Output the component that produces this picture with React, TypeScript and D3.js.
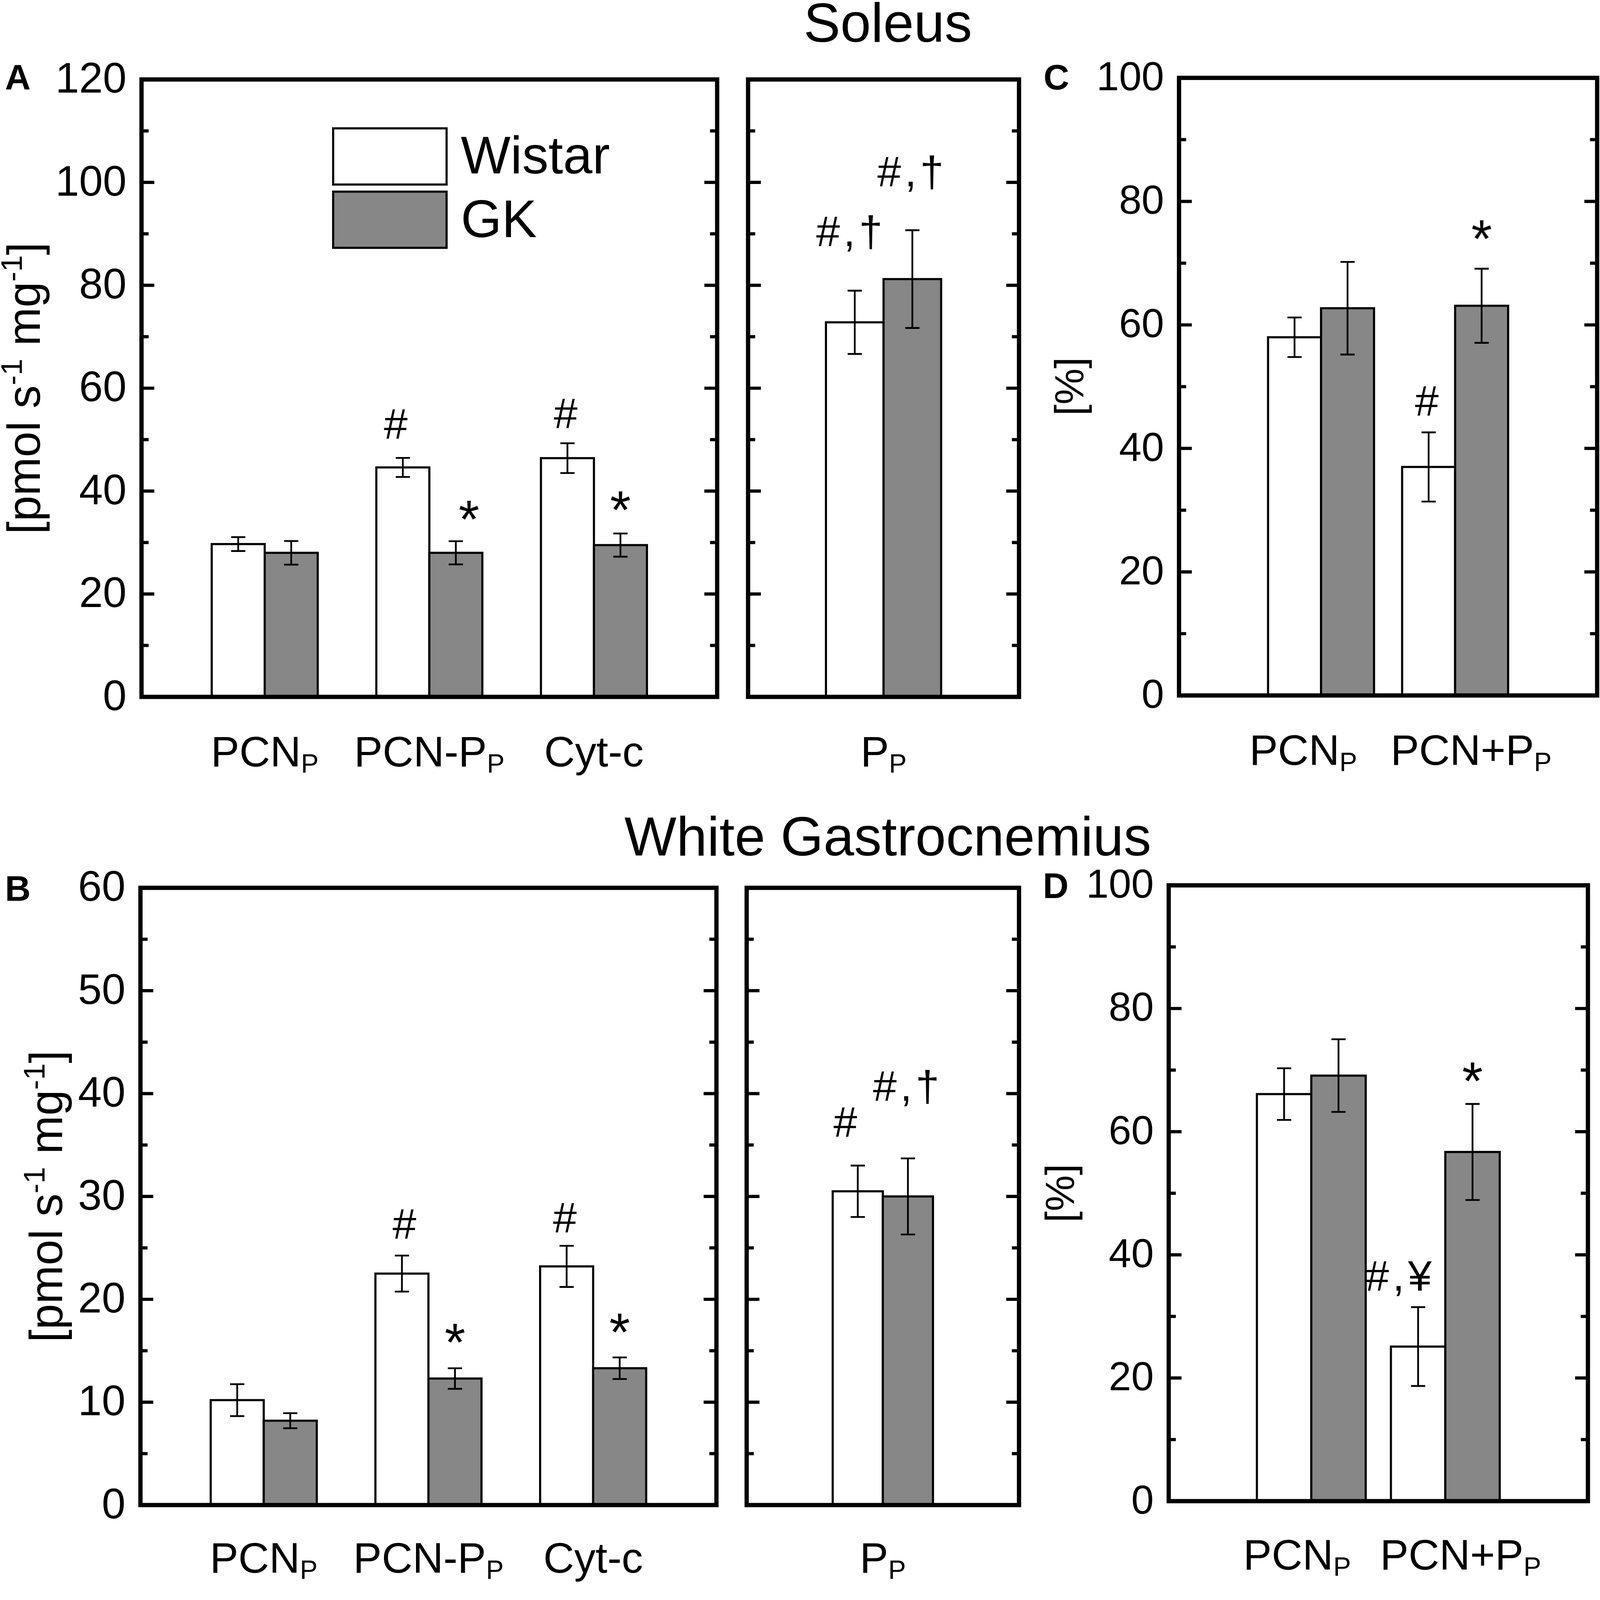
import * as d3 from "d3";

const WIDTH = 4500;
const HEIGHT = 4468;
const FONT = "'Liberation Sans', Arial, Helvetica, sans-serif";
const GK_FILL = "#878787";

// ---- data ----
const fluxCategories = ["PCN_P", "PCN-P_P", "Cyt-c"];
const ppCategories = ["P_P"];
const ratioCategories = ["PCN_P", "PCN+P_P"];

// Soleus, panel A
const soleusWistar = [29.7, 44.6, 46.4];
const soleusWistarSem = [1.35, 1.85, 2.9];
const soleusGK = [28.0, 28.0, 29.5];
const soleusGKSem = [2.3, 2.25, 2.25];
const soleusPpWistar = [72.8];
const soleusPpWistarSem = [6.15];
const soleusPpGK = [81.2];
const soleusPpGKSem = [9.5];
// Soleus, panel C
const soleusRatioWistar = [58.0, 37.0];
const soleusRatioWistarSem = [3.2, 5.6];
const soleusRatioGK = [62.7, 63.1];
const soleusRatioGKSem = [7.5, 6.0];

// White gastrocnemius, panel B
const gastrocWistar = [10.2, 22.5, 23.2];
const gastrocWistarSem = [1.55, 1.75, 2.0];
const gastrocGK = [8.2, 12.3, 13.3];
const gastrocGKSem = [0.73, 1.0, 1.05];
const gastrocPpWistar = [30.5];
const gastrocPpWistarSem = [2.5];
const gastrocPpGK = [30.0];
const gastrocPpGKSem = [3.7];
// White gastrocnemius, panel D
const gastrocRatioWistar = [66.1, 25.1];
const gastrocRatioWistarSem = [4.2, 6.4];
const gastrocRatioGK = [69.1, 56.7];
const gastrocRatioGKSem = [5.9, 7.8];

const soleusFluxTicks = [0, 20, 40, 60, 80, 100, 120];
const gastrocFluxTicks = [0, 10, 20, 30, 40, 50, 60];
const ratioTicks = [0, 20, 40, 60, 80, 100];

// significance marks: category, series, text, baseline level (axis units)
type Mark = { cat: string; series: string; text: string; at: number };
const soleusMarks: Mark[] = [
  { cat: "PCN-P_P", series: "Wistar", text: "#", at: 50.2 },
  { cat: "Cyt-c", series: "Wistar", text: "#", at: 52.2 },
  { cat: "PCN-P_P", series: "GK", text: "*", at: 30.9 },
  { cat: "Cyt-c", series: "GK", text: "*", at: 32.7 },
];
const soleusPpMarks: Mark[] = [
  { cat: "P_P", series: "Wistar", text: "#,\u2020", at: 87.6 },
  { cat: "P_P", series: "GK", text: "#,\u2020", at: 99.2 },
];
const soleusRatioMarks: Mark[] = [
  { cat: "PCN+P_P", series: "Wistar", text: "#", at: 45.3 },
  { cat: "PCN+P_P", series: "GK", text: "*", at: 70.9 },
];
const gastrocMarks: Mark[] = [
  { cat: "PCN-P_P", series: "Wistar", text: "#", at: 25.9 },
  { cat: "Cyt-c", series: "Wistar", text: "#", at: 26.5 },
  { cat: "PCN-P_P", series: "GK", text: "*", at: 14.0 },
  { cat: "Cyt-c", series: "GK", text: "*", at: 15.0 },
];
const gastrocPpMarks: Mark[] = [
  { cat: "P_P", series: "Wistar", text: "#", at: 35.8 },
  { cat: "P_P", series: "GK", text: "#,\u2020", at: 39.3 },
];
const gastrocRatioMarks: Mark[] = [
  { cat: "PCN+P_P", series: "Wistar", text: "#,\u00a5", at: 34.2 },
  { cat: "PCN+P_P", series: "GK", text: "*", at: 65.2 },
];

// small horizontal nudges (px), layout only
const MARK_DX: Record<string, number> = {
  "A-PCN-P_P-Wistar": -15,
  "A-PCN-P_P-GK": 37,
  "Ap-P_P-Wistar": -10,
  "B-PCN-P_P-Wistar": 12,
  "Bp-P_P-Wistar": -30,
  "D-PCN+P_P-Wistar": -50,
};
const LABEL_DX: Record<string, number> = {
  "C-PCN_P": -50,
  "C-PCN+P_P": 45,
  "D-PCN_P": -40,
  "D-PCN+P_P": 43,
};

type Frame = { x0: number; x1: number; y0: number; y1: number };
type Series = { key: string; values: number[]; sem: number[]; fill: string };

const subLabel = (label: string, fs: number) => {
  const [main, sub] = label.split("_");
  return (
    <>
      {main}
      {sub && (
        <tspan fontSize={fs * 0.62} dy={fs * 0.15}>
          {sub}
        </tspan>
      )}
    </>
  );
};

type PanelProps = {
  id: string;
  frame: Frame;
  max: number;
  ticks: number[];
  tickFont?: number;
  showTickLabels: boolean;
  cats: string[];
  series: Series[];
  padInner: number;
  padOuter: number;
  marks: Mark[];
  labelGap: number;
};

const Panel = ({
  id,
  frame,
  max,
  ticks,
  tickFont = 120,
  showTickLabels,
  cats,
  series,
  padInner,
  padOuter,
  marks,
  labelGap,
}: PanelProps) => {
  const yScale = d3.scaleLinear().domain([0, max]).range([frame.y1, frame.y0]);
  const xScale = d3
    .scaleBand()
    .domain(cats)
    .range([frame.x0, frame.x1])
    .paddingInner(padInner)
    .paddingOuter(padOuter);
  const subScale = d3
    .scaleBand()
    .domain(series.map((s) => s.key))
    .range([0, xScale.bandwidth()]);
  const minor = d3.pairs(ticks).map(([a, b]) => (a + b) / 2);
  const bw = subScale.bandwidth();
  const cap = 20;
  const majorLen = 36;
  const minorLen = 20;

  const barX = (cat: string, key: string) =>
    (xScale(cat) ?? 0) + (subScale(key) ?? 0);

  return (
    <g>
      {/* bars */}
      {series.map((s) =>
        cats.map((cat, i) => (
          <rect
            key={`${s.key}-${cat}`}
            x={barX(cat, s.key)}
            y={yScale(s.values[i])}
            width={bw}
            height={yScale(0) - yScale(s.values[i])}
            fill={s.fill}
            stroke="#000"
            strokeWidth={6}
          />
        ))
      )}
      {/* error bars */}
      {series.map((s) =>
        cats.map((cat, i) => {
          const cx = barX(cat, s.key) + bw / 2;
          const lo = yScale(s.values[i] - s.sem[i]);
          const hi = yScale(s.values[i] + s.sem[i]);
          return (
            <g key={`e-${s.key}-${cat}`} stroke="#000" strokeWidth={5}>
              <line x1={cx} x2={cx} y1={lo} y2={hi} />
              <line x1={cx - cap} x2={cx + cap} y1={lo} y2={lo} />
              <line x1={cx - cap} x2={cx + cap} y1={hi} y2={hi} />
            </g>
          );
        })
      )}
      {/* frame */}
      <rect
        x={frame.x0}
        y={frame.y0}
        width={frame.x1 - frame.x0}
        height={frame.y1 - frame.y0}
        fill="none"
        stroke="#000"
        strokeWidth={12}
      />
      {/* inward ticks on both sides */}
      <g stroke="#000" strokeWidth={9}>
        {ticks.slice(1, -1).map((t) => (
          <g key={`M${t}`}>
            <line x1={frame.x0} x2={frame.x0 + majorLen} y1={yScale(t)} y2={yScale(t)} />
            <line x1={frame.x1} x2={frame.x1 - majorLen} y1={yScale(t)} y2={yScale(t)} />
          </g>
        ))}
        {minor.map((t) => (
          <g key={`m${t}`}>
            <line x1={frame.x0} x2={frame.x0 + minorLen} y1={yScale(t)} y2={yScale(t)} />
            <line x1={frame.x1} x2={frame.x1 - minorLen} y1={yScale(t)} y2={yScale(t)} />
          </g>
        ))}
      </g>
      {showTickLabels &&
        ticks.map((t) => (
          <text
            key={`l${t}`}
            x={frame.x0 - 42}
            y={yScale(t) + tickFont * 0.358 - 6}
            textAnchor="end"
            fontSize={tickFont}
          >
            {t}
          </text>
        ))}
      {/* category labels */}
      {cats.map((cat) => (
        <text
          key={`c-${cat}`}
          x={(xScale(cat) ?? 0) + xScale.bandwidth() / 2 + (LABEL_DX[`${id}-${cat}`] ?? 0)}
          y={frame.y1 + labelGap}
          textAnchor="middle"
          fontSize={120}
        >
          {subLabel(cat, 120)}
        </text>
      ))}
      {/* significance marks */}
      {marks.map((m) => {
        const dx = MARK_DX[`${id}-${m.cat}-${m.series}`] ?? 0;
        const star = m.text === "*";
        return (
          <text
            key={`s-${m.cat}-${m.series}`}
            x={barX(m.cat, m.series) + bw / 2 + dx}
            y={yScale(m.at)}
            textAnchor="middle"
            fontSize={star ? 150 : 120}
            letterSpacing={star ? 0 : 10}
          >
            {m.text}
          </text>
        );
      })}
    </g>
  );
};

const mkSeries = (w: number[], we: number[], g: number[], ge: number[]): Series[] => [
  { key: "Wistar", values: w, sem: we, fill: "#ffffff" },
  { key: "GK", values: g, sem: ge, fill: GK_FILL },
];

const FRAME_A = { x0: 398, x1: 2017, y0: 223.5, y1: 1960 };
const FRAME_AP = { x0: 2104, x1: 2866, y0: 223.5, y1: 1960 };
const FRAME_C = { x0: 3316, x1: 4492, y0: 219, y1: 1956 };
const FRAME_B = { x0: 395, x1: 2015, y0: 2497, y1: 4233 };
const FRAME_BP = { x0: 2100, x1: 2866, y0: 2497, y1: 4233 };
const FRAME_D = { x0: 3287, x1: 4466, y0: 2490, y1: 4222 };

const YLabelFlux = ({ x, y }: { x: number; y: number }) => (
  <text transform={`translate(${x},${y}) rotate(-90)`} textAnchor="middle" fontSize={130}>
    [pmol s
    <tspan fontSize={84} dy={-50}>
      -1
    </tspan>
    <tspan dy={50}>{" mg"}</tspan>
    <tspan fontSize={84} dy={-50}>
      -1
    </tspan>
    <tspan dy={50}>]</tspan>
  </text>
);

const YLabelPct = ({ x, y }: { x: number; y: number }) => (
  <text transform={`translate(${x},${y}) rotate(-90)`} textAnchor="middle" fontSize={114}>
    [%]
  </text>
);

export default function App() {
  return (
    <svg
      viewBox={`0 0 ${WIDTH} ${HEIGHT}`}
      preserveAspectRatio="xMinYMin meet"
      style={{
        position: "absolute",
        left: 0,
        top: 0,
        width: "100vw",
        height: `calc(100vw * ${HEIGHT} / ${WIDTH})`,
        display: "block",
        background: "#fff",
      }}
      fontFamily={FONT}
    >
      <rect x={0} y={0} width={WIDTH} height={HEIGHT} fill="#fff" />
      {/* titles */}
      <text x={2497} y={118} textAnchor="middle" fontSize={155}>
        Soleus
      </text>
      <text x={2497} y={2406} textAnchor="middle" fontSize={155}>
        White Gastrocnemius
      </text>
      {/* panel letters */}
      <g fontWeight="bold" fontSize={100}>
        <text x={14} y={252}>A</text>
        <text x={14} y={2533}>B</text>
        <text x={2935} y={252}>C</text>
        <text x={2933} y={2526}>D</text>
      </g>

      {/* Soleus */}
      <Panel
        id="A"
        frame={FRAME_A}
        max={120}
        ticks={soleusFluxTicks}
        showTickLabels
        cats={fluxCategories}
        series={mkSeries(soleusWistar, soleusWistarSem, soleusGK, soleusGKSem)}
        padInner={0.356}
        padOuter={0.4265}
        marks={soleusMarks}
        labelGap={195}
      />
      <Panel
        id="Ap"
        frame={FRAME_AP}
        max={120}
        ticks={soleusFluxTicks}
        showTickLabels={false}
        cats={ppCategories}
        series={mkSeries(soleusPpWistar, soleusPpWistarSem, soleusPpGK, soleusPpGKSem)}
        padInner={0}
        padOuter={0.676}
        marks={soleusPpMarks}
        labelGap={195}
      />
      <Panel
        id="C"
        frame={FRAME_C}
        max={100}
        ticks={ratioTicks}
        tickFont={114}
        showTickLabels
        cats={ratioCategories}
        series={mkSeries(soleusRatioWistar, soleusRatioWistarSem, soleusRatioGK, soleusRatioGKSem)}
        padInner={0.2095}
        padOuter={0.664}
        marks={soleusRatioMarks}
        labelGap={195}
      />
      <YLabelFlux x={112} y={1092} />
      <YLabelPct x={3047} y={1087} />

      {/* legend */}
      <g>
        <rect x={937} y={361} width={319} height={158} fill="#fff" stroke="#000" strokeWidth={6} />
        <rect x={937} y={539} width={319} height={158} fill={GK_FILL} stroke="#000" strokeWidth={6} />
        <text x={1296} y={488} fontSize={148}>
          Wistar
        </text>
        <text x={1296} y={667} fontSize={148}>
          GK
        </text>
      </g>

      {/* White gastrocnemius */}
      <Panel
        id="B"
        frame={FRAME_B}
        max={60}
        ticks={gastrocFluxTicks}
        showTickLabels
        cats={fluxCategories}
        series={mkSeries(gastrocWistar, gastrocWistarSem, gastrocGK, gastrocGKSem)}
        padInner={0.356}
        padOuter={0.4265}
        marks={gastrocMarks}
        labelGap={190}
      />
      <Panel
        id="Bp"
        frame={FRAME_BP}
        max={60}
        ticks={gastrocFluxTicks}
        showTickLabels={false}
        cats={ppCategories}
        series={mkSeries(gastrocPpWistar, gastrocPpWistarSem, gastrocPpGK, gastrocPpGKSem)}
        padInner={0}
        padOuter={0.858}
        marks={gastrocPpMarks}
        labelGap={190}
      />
      <Panel
        id="D"
        frame={FRAME_D}
        max={100}
        ticks={ratioTicks}
        tickFont={114}
        showTickLabels
        cats={ratioCategories}
        series={mkSeries(gastrocRatioWistar, gastrocRatioWistarSem, gastrocRatioGK, gastrocRatioGKSem)}
        padInner={0.188}
        padOuter={0.658}
        marks={gastrocRatioMarks}
        labelGap={192}
      />
      <YLabelFlux x={175} y={3365} />
      <YLabelPct x={3020} y={3356} />
    </svg>
  );
}
